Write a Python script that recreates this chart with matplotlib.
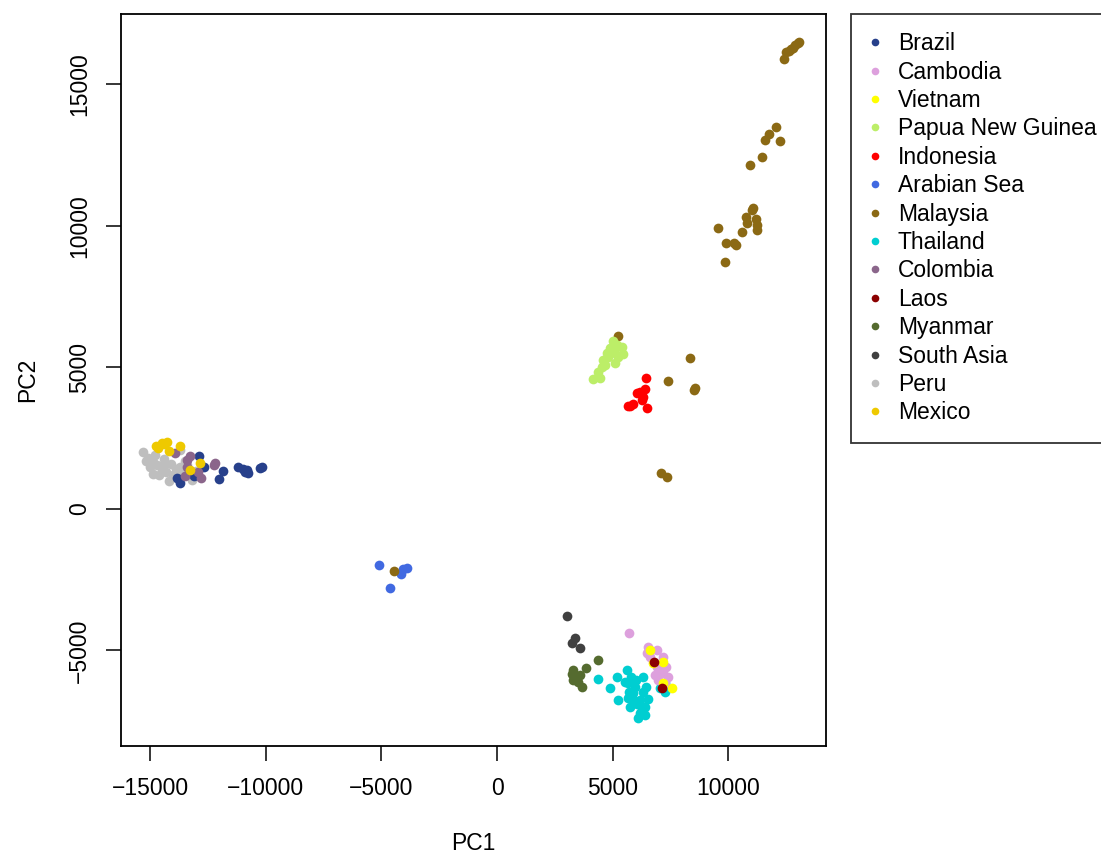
import matplotlib.pyplot as plt
from matplotlib.lines import Line2D

plt.rcParams["font.family"] = ["Liberation Sans", "DejaVu Sans"]

groups = ["Brazil", "Cambodia", "Vietnam", "Papua New Guinea", "Indonesia", "Arabian Sea",
          "Malaysia", "Thailand", "Colombia", "Laos", "Myanmar", "South Asia", "Peru", "Mexico"]
colors = ["#27408B", "#DDA0DD", "#FFFF00", "#BCEE68", "#FF0000", "#4169E1",
          "#8B6914", "#00CED1", "#8B668B", "#8B0000", "#556B2F", "#404040", "#BEBEBE", "#EEC900"]

brazil_x = [-10178, -10250, -10900, -10757, -11190, -11000, -10830, -11838, -12011, -12876, -12673, -13711, -13855, -13120]
brazil_y = [1495, 1450, 1318, 1261, 1495, 1420, 1380, 1353, 1060, 1883, 1495, 908, 1085, 1170]

cambodia_x = [5709, 6546, 6900, 7194, 6500, 6906, 7200, 7410, 6977, 7260, 6830, 6600, 7330]
cambodia_y = [-4393, -4865, -5000, -5218, -5100, -5572, -5800, -5925, -6042, -6160, -5860, -5220, -5570]

vietnam_x = [6618, 7194, 6762, 7556, 7200]
vietnam_y = [-4982, -5395, -5453, -6337, -6160]

png_x = [5032, 5176, 5393, 5464, 4887, 4744, 5104, 5247, 5104, 4598, 4527, 4383, 4455, 4167, 4815, 4960, 4670]
png_y = [5947, 5795, 5736, 5466, 5678, 5502, 5502, 5382, 5148, 5265, 5029, 4852, 4617, 4582, 5382, 5560, 5090]

indonesia_x = [6431, 6401, 6042, 6258, 6330, 5753, 5653, 6474, 5900, 6200]
indonesia_y = [4617, 4228, 4110, 3852, 3970, 3640, 3640, 3558, 3700, 4150]

arabian_x = [-5090, -4053, -3908, -4166, -4628]
arabian_y = [-1979, -2131, -2096, -2297, -2803]

malaysia_x = [12400, 12500, 12650, 12800, 12900, 13000, 13050, 12700,
              12067, 11751, 11578, 12240, 11475, 10943,
              11087, 11030, 10770, 11202, 10826, 11230, 11230, 10583, 9559, 9905, 10337, 10251, 9875,
              5247, 8348, 7409, 8551, 8500, 7080, 7367, -4441]
malaysia_y = [15900, 16150, 16200, 16300, 16400, 16450, 16500, 16250,
              13487, 13250, 13039, 13014, 12450, 12166,
              10625, 10550, 10329, 10236, 10095, 10035, 9859, 9788, 9940, 9388, 9329, 9410, 8717,
              6113, 5347, 4523, 4264, 4200, 1261, 1143, -2180]

thailand_x = [4355, 5609, 5177, 4888, 5247, 5680, 6030, 6328, 6460, 5896, 6185, 5753, 6112, 6401, 6258,
              5970, 5700, 5550, 6550, 6040, 5800, 7266, 7266, 7050, 6300, 5900, 5650, 6180, 6400]
thailand_y = [-6007, -5689, -5925, -6337, -6749, -6160, -6030, -5925, -6280, -6513, -6749, -6985, -7396, -7280, -7102,
              -6280, -6460, -6100, -6700, -6880, -5930, -6160, -6455, -6340, -6470, -6750, -6680, -7200, -6980]

colombia_x = [-13927, -13422, -13279, -13420, -12198, -12250, -12920, -12816, -13500]
colombia_y = [1968, 1731, 1872, 1480, 1636, 1560, 1318, 1085, 1180]

laos_x = [6791, 7124]
laos_y = [-5395, -6337]

myanmar_x = [4383, 3850, 3274, 3302, 3518, 3662, 3230, 3590]
myanmar_y = [-5336, -5630, -5689, -6042, -6102, -6278, -5830, -5850]

southasia_x = [3015, 3374, 3230, 3590]
southasia_y = [-3781, -4570, -4746, -4922]

peru_x = [-15300, -15100, -14900, -14700, -14500, -14300, -14000, -13800, -14800, -14400, -14100, -13900,
          -13600, -13300, -13200, -15000, -14600, -14200, -13700, -13400, -13000, -14900, -15200, -14400,
          -13500, -13711, -13206]
peru_y = [2000, 1800, 1650, 1550, 1400, 1300, 1200, 1050, 1900, 1750, 1600, 1400,
          1300, 1200, 1050, 1500, 1200, 1000, 1500, 1550, 1350, 1250, 1700, 1550,
          1700, 2085, 1025]

mexico_x = [-14502, -14286, -14650, -13711, -14200, -12846, -13279, -14400, -14750]
mexico_y = [2322, 2378, 2145, 2226, 2050, 1615, 1378, 2280, 2226]

xs = [brazil_x, cambodia_x, vietnam_x, png_x, indonesia_x, arabian_x, malaysia_x,
      thailand_x, colombia_x, laos_x, myanmar_x, southasia_x, peru_x, mexico_x]
ys = [brazil_y, cambodia_y, vietnam_y, png_y, indonesia_y, arabian_y, malaysia_y,
      thailand_y, colombia_y, laos_y, myanmar_y, southasia_y, peru_y, mexico_y]

fig = plt.figure(figsize=(11.01, 8.57), dpi=100)
ax = fig.add_axes([121/1101, 1 - 746/857, (826 - 121)/1101, (746 - 14)/857])

# draw order: peru underneath, cambodia before vietnam/laos
order = [12, 0, 8, 13, 5, 6, 3, 4, 11, 10, 7, 1, 2, 9]
for i in order:
    ax.plot(xs[i], ys[i], "o", color=colors[i], markersize=7, markeredgewidth=0, linestyle="none")

ax.set_xlim(-16263, 14230)
ax.set_ylim(-8375, 17491)
ax.set_xticks([-15000, -10000, -5000, 0, 5000, 10000])
ax.set_yticks([-5000, 0, 5000, 10000, 15000])
ax.set_xticklabels(["\u221215000", "\u221210000", "\u22125000", "0", "5000", "10000"])
ax.set_yticklabels(["\u22125000", "0", "5000", "10000", "15000"], rotation=90, va="center")
ax.tick_params(direction="out", length=10.5, width=1.1, labelsize=16.5)
ax.tick_params(axis="x", pad=12)
ax.tick_params(axis="y", pad=11)
for s in ax.spines.values():
    s.set_linewidth(1.3)
ax.set_xlabel("PC1", fontsize=16.5, labelpad=23)
ax.set_ylabel("PC2", fontsize=16.5, labelpad=21)

handles = [Line2D([], [], marker="o", linestyle="none", color=c, markersize=5.5, markeredgewidth=0) for c in colors]
leg = fig.legend(handles, groups, loc="upper left", bbox_to_anchor=(851/1101, 1 - 14/857),
                 frameon=True, fancybox=False, fontsize=16.5, handlelength=0.46, handletextpad=0.78,
                 labelspacing=0.235, borderpad=0.8, borderaxespad=0)
leg.get_frame().set_edgecolor("black")
leg.get_frame().set_linewidth(1.3)

fig.savefig("out.png", dpi=100)
